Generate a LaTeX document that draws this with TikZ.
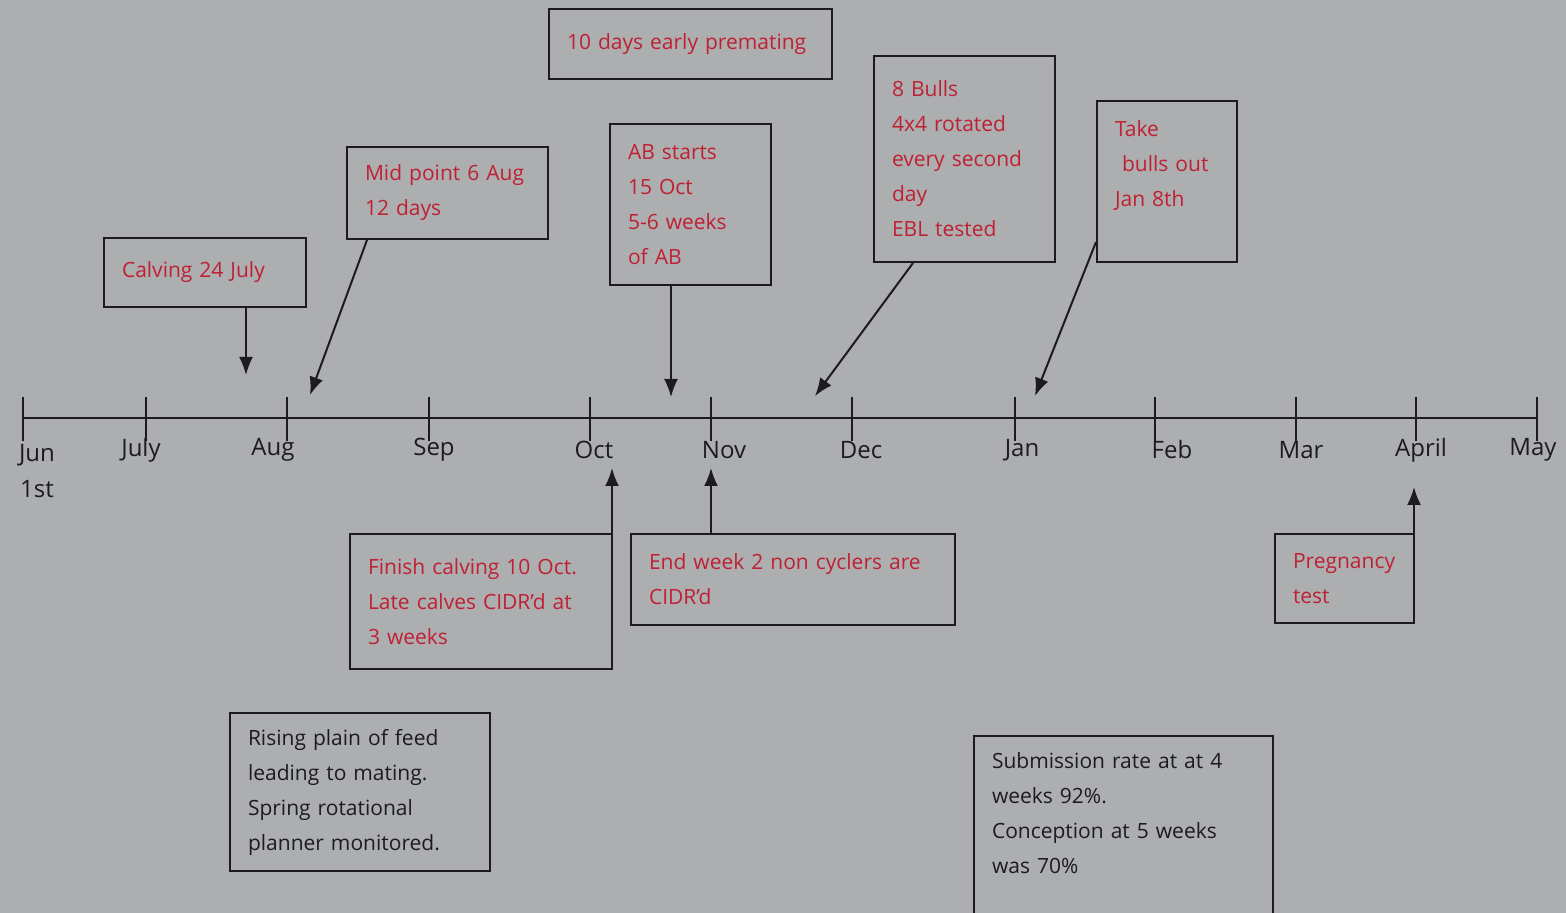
\documentclass[tikz,border=0pt]{standalone}
\usepackage{fontspec}
\setmainfont{Open Sans}
\usepackage{tikz}
\usetikzlibrary{arrows.meta}
\definecolor{paper}{RGB}{172,174,175}
\definecolor{ink}{RGB}{28,28,30}
\definecolor{redink}{RGB}{192,32,52}

\begin{document}
\begin{tikzpicture}[x=.5pt,y=-.5pt,font=\fontsize{10.5}{17.5}\selectfont,
 note/.style={draw=ink,line width=1pt,inner xsep=9pt,inner ysep=0pt,
              align=left,text=redink,anchor=north west},
 plainnote/.style={note,text=ink},
 month/.style={text=ink,inner sep=0pt,font=\fontsize{12}{14}\selectfont},
 pointer/.style={ink,line width=1pt,-{Latex[length=9pt,width=7pt]}}]
 \fill[paper] (0,0) rectangle (1566,913);
 \useasboundingbox (0,0) rectangle (1566,913);
 % time line
 \draw[ink,line width=1.2pt] (23,418) -- (1537,418);
 \foreach \x in {23,146,287,429,590,711,852,1015,1155,1296,1416,1537}
   \draw[ink,line width=1pt] (\x,397) -- (\x,441);
 \node[month,align=center] (jun) at (37,471) {Jun\\[4pt]1st};
 \foreach \x/\m/\n in {141/July/jul,273/Aug/aug,434/Sep/sep,594/Oct/oct,
   724/Nov/nov,861/Dec/dec,1022/Jan/jan,1172/Feb/feb,1301/Mar/mar,
   1421/April/apr,1533/May/may}
   \node[month] (\n) at (\x,450) {\m};
 % notes above the line
 \node[note,text width=123.5pt,minimum height=35pt] (prem) at (548,8)
   {10 days early premating};
 \node[note,text width=83pt,minimum height=34.5pt] (calv) at (103,237)
   {Calving 24 July};
 \node[note,text width=82.5pt,minimum height=46pt] (midp) at (346,146)
   {Mid point 6 Aug\\12 days};
 \node[note,text width=62.5pt,minimum height=80.5pt] (abst) at (609,123)
   {AB starts\\15 Oct\\5-6 weeks\\of AB};
 \node[note,text width=72.5pt,minimum height=103pt] (bull) at (873,55)
   {8 Bulls\\4x4 rotated\\every second\\day\\EBL tested};
 \node[note,text width=52pt,minimum height=80.5pt] (take) at (1096,100)
   {Take\\\ bulls out\\Jan 8th\\~};
 % notes below the line
 \node[note,text width=113pt,minimum height=67.5pt] (fini) at (349,533)
   {Finish calving 10 Oct.\\Late calves CIDR'd at\\3 weeks};
 \node[note,text width=144pt,minimum height=45.5pt] (endw) at (630,533)
   {End week 2 non cyclers are\\CIDR'd};
 \node[note,text width=51.5pt,minimum height=44.5pt] (preg) at (1274,533)
   {Pregnancy\\test};
 \node[plainnote,text width=112pt,minimum height=79pt] (feed) at (229,712)
   {Rising plain of feed\\leading to mating.\\Spring rotational\\planner monitored.};
 \node[plainnote,text width=131.5pt,minimum height=95pt] (subm) at (973,735)
   {Submission rate at at 4\\weeks 92\%.\\Conception at 5 weeks\\was 70\%\\~};
 % pointers
 \coordinate (tCalv) at (246,375);
 \coordinate (tMid) at (310,395);
 \coordinate (tAB) at (671,397);
 \coordinate (tBull) at (815,396);
 \coordinate (tTake) at (1035,396);
 \coordinate (tFini) at (611,468);
 \coordinate (tEnd) at (711,468);
 \coordinate (tPreg) at (1415,487);
 \draw[pointer] (calv.south -| tCalv) -- (tCalv);
 \draw[pointer] ([xshift=10.5pt]midp.south west) -- (tMid);
 \draw[pointer] (abst.south -| tAB) -- (tAB);
 \draw[pointer] ([xshift=20pt]bull.south west) -- (tBull);
 \draw[pointer] ([yshift=10.5pt]take.south west) -- (tTake);
 \draw[pointer] ([xshift=-.5pt]fini.north east) -- ([xshift=-.5pt]fini.north east |- tFini);
 \draw[pointer] (endw.north -| tEnd) -- (tEnd);
 \draw[pointer] ([xshift=-.5pt]preg.north east) -- ([xshift=-.5pt]preg.north east |- tPreg);
\end{tikzpicture}
\end{document}
